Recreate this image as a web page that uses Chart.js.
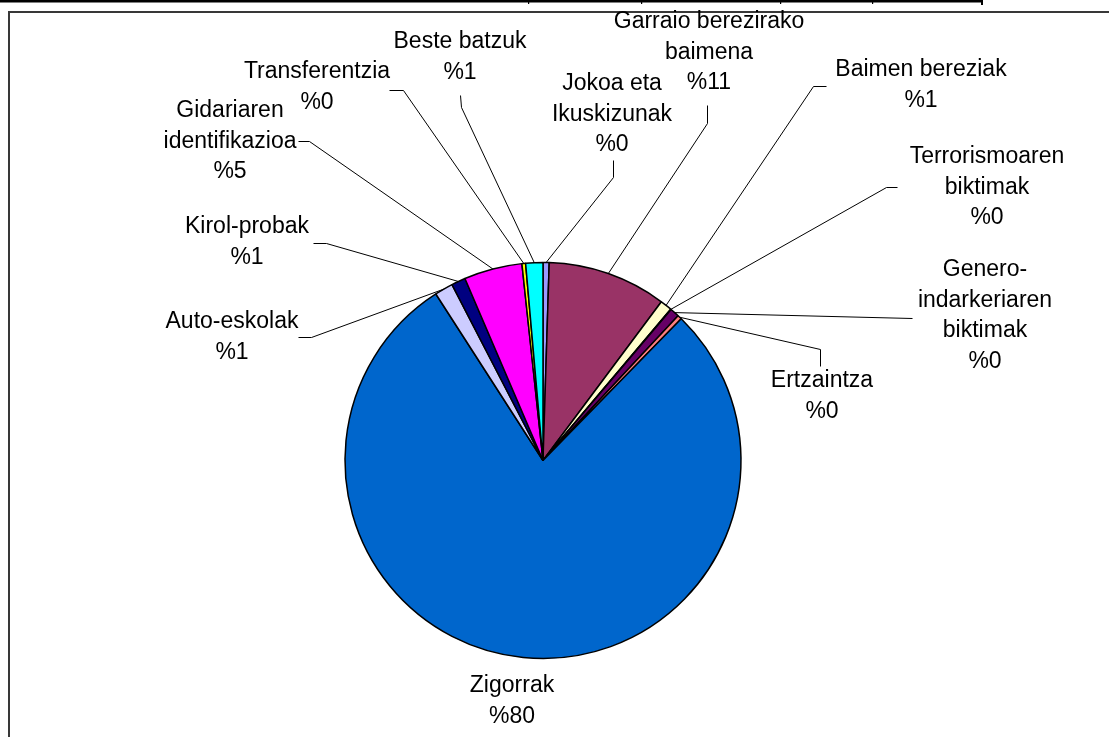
<!DOCTYPE html>
<html><head><meta charset="utf-8">
<script src="https://cdn.jsdelivr.net/npm/chart.js@4"></script>
<style>
html,body{margin:0;padding:0;background:#fff;overflow:hidden}
#wrap{position:relative;width:1109px;height:737px}
canvas{position:absolute;left:0;top:0}
</style></head><body>
<div id="wrap"><canvas id="c" width="1109" height="737"></canvas></div>
<script>
// ---- data ----
const categories = [
  ['Jokoa eta','Ikuskizunak'],
  ['Garraio berezirako','baimena'],
  ['Baimen bereziak'],
  ['Terrorismoaren','biktimak'],
  ['Genero-','indarkeriaren','biktimak'],
  ['Ertzaintza'],
  ['Zigorrak'],
  ['Auto-eskolak'],
  ['Kirol-probak'],
  ['Gidariaren','identifikazioa'],
  ['Transferentzia'],
  ['Beste batzuk']
];
const values = [0.5, 9.7, 0.95, 0.05, 0.75, 0.35, 78.6, 1.5, 1.15, 4.75, 0.3, 1.4];
const pctLabels = ['%0','%11','%1','%0','%0','%0','%80','%1','%1','%5','%0','%1'];
const colors = ['#9999FF','#993366','#FFFFCC','#CCFFFF','#660066','#FF8080','#0066CC','#CCCCFF','#000080','#FF00FF','#FFFF00','#00FFFF'];

// ---- label layout (text centre x, first line y; leader polyline start points) ----
const labelLayout = [
  {x:612, y:84,  pts:[[613,160],[613,177]]},
  {x:709, y:22,  pts:[[707,105],[707,123]]},
  {x:921, y:70,  pts:[[826,86],[813,86]]},
  {x:987, y:157, pts:[[897,187],[886,187]]},
  {x:985, y:270, pts:[[912,318]]},
  {x:822, y:381, pts:[[820,366],[820,349]]},
  {x:512, y:686, pts:null},
  {x:232, y:322, pts:[[298,337],[311,337]]},
  {x:247, y:227, pts:[[313,243],[326,243]]},
  {x:230, y:111, pts:[[298,141],[309,141]]},
  {x:317, y:72,  pts:[[389,90],[403,90]]},
  {x:460, y:42,  pts:[[460,95],[461,107]]}
];
const LINE_H = 30.5;
const FONT = '23px "Liberation Sans", Arial, sans-serif';

const framePlugin = {
  id:'frame',
  beforeDraw(chart){
    const ctx = chart.ctx;
    ctx.save();
    ctx.fillStyle='#fff'; ctx.fillRect(0,0,chart.width,chart.height);
    ctx.fillStyle='#000';
    ctx.fillRect(0,0,983,2.5);
    [528,641,780,872].forEach(x=>ctx.fillRect(x,0,1.2,4));
    ctx.fillRect(981,0,2,5);
    ctx.strokeStyle='#383838'; ctx.lineWidth=2;
    ctx.beginPath(); ctx.moveTo(9,737); ctx.lineTo(9,12); ctx.lineTo(1109,12); ctx.stroke();
    ctx.restore();
  }
};

const labelPlugin = {
  id:'pielabels',
  afterDraw(chart){
    const ctx = chart.ctx;
    const meta = chart.getDatasetMeta(0);
    ctx.save();
    ctx.font = FONT;
    ctx.fillStyle='#000';
    ctx.textAlign='center';
    ctx.textBaseline='middle';
    meta.data.forEach((arc,i)=>{
      const L = labelLayout[i];
      const lines = categories[i].concat([pctLabels[i]]);
      lines.forEach((t,k)=>ctx.fillText(t, L.x, L.y + k*LINE_H));
      if(L.pts){
        const p = arc.getProps(['x','y','startAngle','endAngle','outerRadius'], true);
        const mid = (p.startAngle + p.endAngle)/2;
        const ex = p.x + Math.cos(mid)*p.outerRadius;
        const ey = p.y + Math.sin(mid)*p.outerRadius;
        ctx.strokeStyle='#000'; ctx.lineWidth=1;
        ctx.beginPath();
        ctx.moveTo(L.pts[0][0]+0.5, L.pts[0][1]+0.5);
        for(let k=1;k<L.pts.length;k++) ctx.lineTo(L.pts[k][0]+0.5, L.pts[k][1]+0.5);
        ctx.lineTo(ex, ey);
        ctx.stroke();
      }
    });
    ctx.restore();
  }
};

new Chart(document.getElementById('c'), {
  type:'pie',
  data:{
    labels: categories,
    datasets:[{
      data: values,
      backgroundColor: colors,
      borderColor:'#000',
      borderWidth:1.5,
      radius:198
    }]
  },
  options:{
    responsive:false,
    animation:false,
    layout:{padding:{left:343, top:260.5, right:366, bottom:76.5}},
    plugins:{legend:{display:false}, tooltip:{enabled:false}}
  },
  plugins:[framePlugin, labelPlugin]
});
</script>
</body></html>
